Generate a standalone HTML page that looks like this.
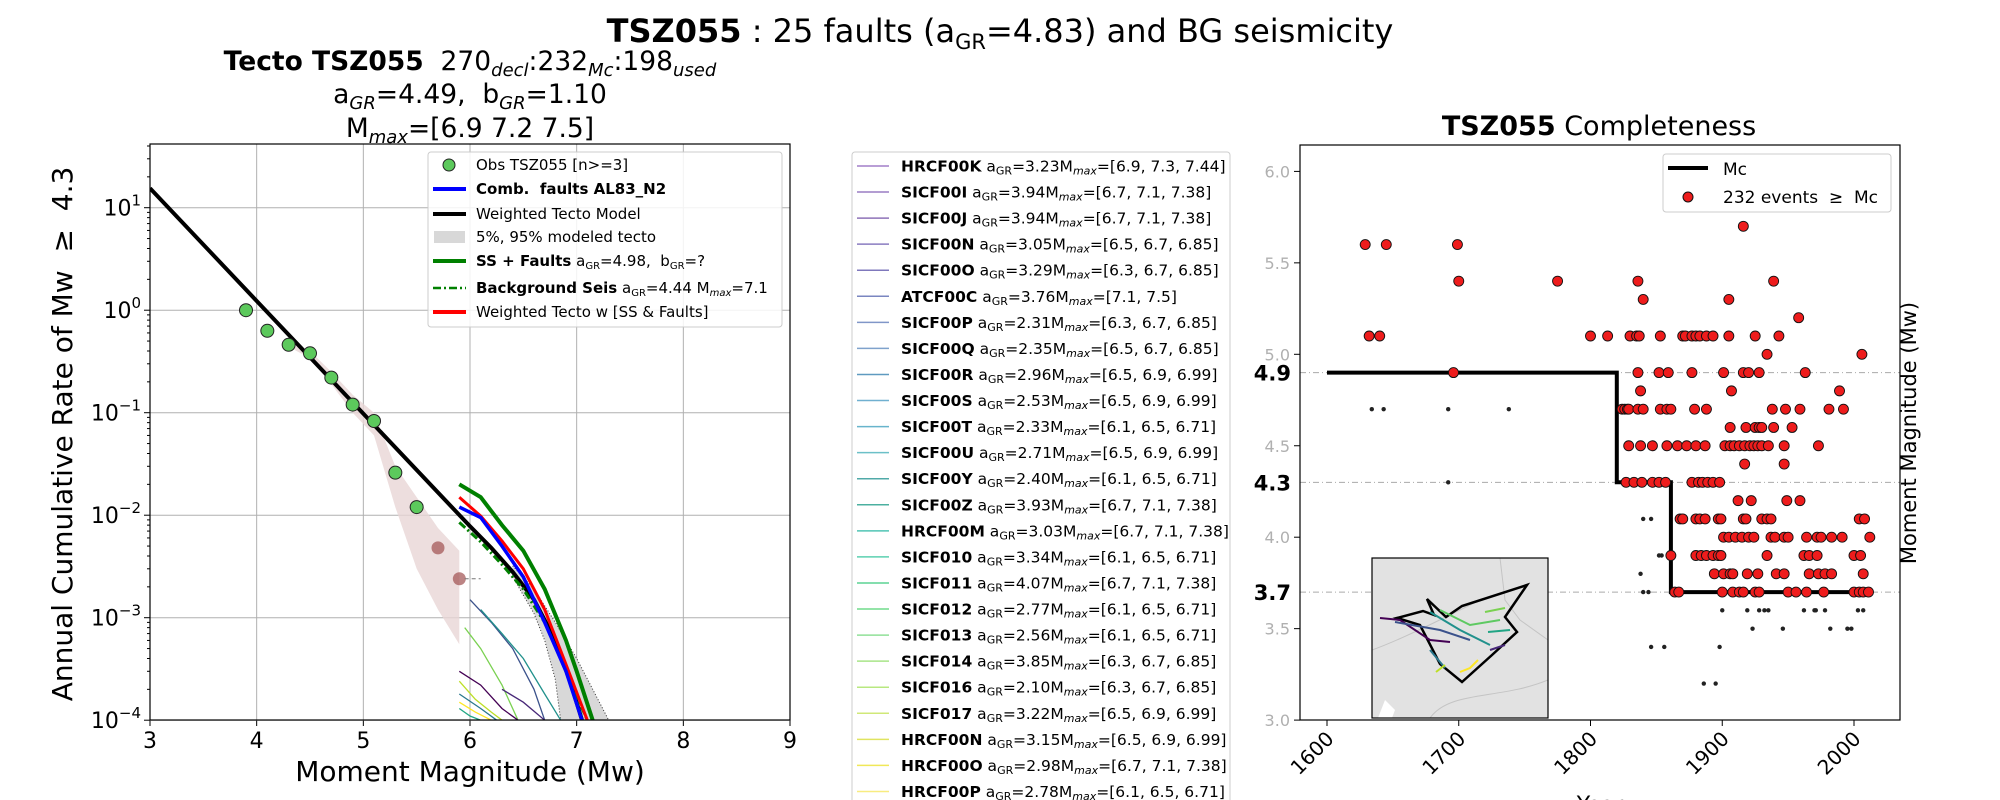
<!DOCTYPE html>
<html><head><meta charset="utf-8"><style>
html,body{margin:0;padding:0;background:#fff;}
svg{display:block;font-family:"DejaVu Sans","Liberation Sans",sans-serif;}
</style></head><body>
<svg id="fig" width="2000" height="800" viewBox="0 0 2000 800" xmlns="http://www.w3.org/2000/svg">
<defs>
<clipPath id="clipL"><rect x="150" y="144" width="640" height="576"/></clipPath>
<clipPath id="clipR"><rect x="1300" y="145" width="600" height="575"/></clipPath>
<clipPath id="clipM"><rect x="1372" y="558" width="176" height="160"/></clipPath>
</defs>
<text x="1000" y="42" text-anchor="middle" font-size="32"><tspan font-weight="bold">TSZ055</tspan> : 25 faults (a<tspan font-size="21" dy="7">GR</tspan><tspan dy="-7">=4.83) and BG seismicity</tspan></text>
<text x="470" y="70" text-anchor="middle" font-size="26.5"><tspan font-weight="bold">Tecto TSZ055</tspan>&#160;&#160;270<tspan font-size="18" font-style="italic" dy="6">decl</tspan><tspan dy="-6">:232</tspan><tspan font-size="18" font-style="italic" dy="6">Mc</tspan><tspan dy="-6">:198</tspan><tspan font-size="18" font-style="italic" dy="6">used</tspan></text>
<text x="470" y="103" text-anchor="middle" font-size="26.5">a<tspan font-size="18" font-style="italic" dy="6">GR</tspan><tspan dy="-6">=4.49,&#160;&#160;b</tspan><tspan font-size="18" font-style="italic" dy="6">GR</tspan><tspan dy="-6">=1.10</tspan></text>
<text x="470" y="137" text-anchor="middle" font-size="26.5">M<tspan font-size="18" font-style="italic" dy="6">max</tspan><tspan dy="-6">=[6.9 7.2 7.5]</tspan></text>
<g id="left"></g>
<g id="faultleg"></g>
<g id="right"></g>
</svg>
<script>
// ---------- LEFT CHART DATA ----------
const xTicks=[3,4,5,6,7,8,9];
const yExps=[-4,-3,-2,-1,0,1];
const obsM=[3.9,4.1,4.3,4.5,4.7,4.9,5.1,5.3,5.5];
const obsR=[1.0,0.63,0.46,0.38,0.22,0.12,0.083,0.026,0.012];
const obs2M=[5.7,5.9];
const obs2R=[0.0048,0.0024];
const tectoM=[3,4,5,6,6.2,6.4,6.6,6.8,6.95,7.05];
const tectoR=[15.5,1.23,0.098,0.0078,0.0048,0.0028,0.0015,0.0006,0.00022,0.0001];
const bandTopM=[4.3,4.5,4.7,4.9,5.1,5.3,5.5,5.7,5.9];
const bandTopR=[0.5,0.4,0.25,0.15,0.1,0.03,0.015,0.0075,0.0045];
const bandBotM=[5.9,5.7,5.5,5.3,5.1,4.9,4.7,4.5,4.3];
const bandBotR=[0.00055,0.0012,0.003,0.012,0.06,0.1,0.19,0.34,0.44];
const pctLoM=[6.4,6.6,6.7,6.8,6.85];
const pctLoR=[0.0025,0.0011,0.0006,0.00025,0.0001];
const pctHiM=[6.4,6.6,6.8,7.0,7.15,7.3];
const pctHiR=[0.0032,0.0019,0.0009,0.0004,0.0002,0.0001];
const blueM=[5.9,6.1,6.3,6.5,6.7,6.9,7.05];
const blueR=[0.012,0.0095,0.005,0.0025,0.0009,0.0003,0.0001];
const redM=[5.9,6.1,6.3,6.5,6.7,6.9,7.1];
const redR=[0.015,0.0098,0.0056,0.003,0.0012,0.00035,0.0001];
const greenM=[5.9,6.1,6.3,6.5,6.7,6.9,7.0,7.15];
const greenR=[0.02,0.015,0.008,0.0045,0.0019,0.0006,0.0003,0.0001];
const bgM=[5.9,6.1,6.3,6.5,6.7,6.9,7.1];
const bgR=[0.0085,0.0055,0.0033,0.0019,0.0009,0.0003,0.0001];
const faultCurves=[
 [[6.0,6.2,6.4,6.6,6.7],[0.0015,0.0009,0.0005,0.0002,0.0001],"#3b528b"],
 [[6.1,6.3,6.5,6.7,6.85],[0.0012,0.0007,0.0004,0.00018,0.0001],"#21918c"],
 [[5.95,6.1,6.3,6.45],[0.0008,0.0005,0.00022,0.0001],"#7ad151"],
 [[5.9,6.1,6.3,6.45],[0.0003,0.00022,0.00013,0.0001],"#440154"],
 [[5.9,6.05,6.2,6.3],[0.00024,0.00016,0.00012,0.0001],"#bddf26"],
 [[5.9,6.1,6.25],[0.00018,0.00013,0.0001],"#2a788e"],
 [[5.9,6.05,6.2],[0.00015,0.00012,0.0001],"#fde725"],
 [[6.3,6.5,6.7],[0.0002,0.00015,0.0001],"#482878"],
 [[5.9,6.0,6.1],[0.00013,0.00011,0.0001],"#22a884"]
];
// ---------- RIGHT CHART DATA ----------
const yearTicks=[1600,1700,1800,1900,2000];
const magTicks=[3.0,3.5,4.0,4.5,5.0,5.5,6.0];
const mcLevels=[4.9,4.3,3.7];
const mcYears=[1600,1820,1820,1861,1861,2013];
const mcMags=[4.9,4.9,4.3,4.3,3.7,3.7];
const evYears=[1916,1629,1645,1699,1700,1775,1836,1939,1840,1905,1958,1632,1640,1800,1813,1830,1835,1837,1853,1870,1872,1877,1880,1883,1888,1893,1905,1925,1943,1934,2006,
1696,1836,1852,1859,1877,1901,1916,1920,1928,1963,1838,1907,1989,
1824,1826,1828,1829,1836,1840,1853,1858,1861,1879,1888,1938,1948,1959,1981,1992,
1906,1918,1925,1928,1930,1939,1953,
1829,1838,1847,1858,1866,1873,1880,1887,1902,1906,1909,1913,1917,1921,1924,1927,1930,1935,1947,1973,1917,1947,
1827,1833,1839,1847,1852,1857,1877,1882,1885,1889,1893,1898,1912,1922,1949,1959,
1868,1870,1880,1883,1887,1897,1899,1916,1918,1930,1934,1937,2004,2008,
1901,1905,1910,1915,1920,1924,1937,1940,1947,1950,1964,1972,1975,1983,1991,2012,
1861,1880,1884,1888,1893,1897,1899,1934,1962,1966,1972,2000,2005,
1894,1901,1906,1908,1919,1927,1941,1947,1966,1973,1978,1983,2007,
1864,1867,1900,1908,1913,1916,1925,1928,1950,1956,1964,1977,2000,2004,2007,2011];
const evMags=[5.7,5.6,5.6,5.6,5.4,5.4,5.4,5.4,5.3,5.3,5.2,5.1,5.1,5.1,5.1,5.1,5.1,5.1,5.1,5.1,5.1,5.1,5.1,5.1,5.1,5.1,5.1,5.1,5.1,5.0,5.0,
4.9,4.9,4.9,4.9,4.9,4.9,4.9,4.9,4.9,4.9,4.8,4.8,4.8,
4.7,4.7,4.7,4.7,4.7,4.7,4.7,4.7,4.7,4.7,4.7,4.7,4.7,4.7,4.7,4.7,
4.6,4.6,4.6,4.6,4.6,4.6,4.6,
4.5,4.5,4.5,4.5,4.5,4.5,4.5,4.5,4.5,4.5,4.5,4.5,4.5,4.5,4.5,4.5,4.5,4.5,4.5,4.5,4.4,4.4,
4.3,4.3,4.3,4.3,4.3,4.3,4.3,4.3,4.3,4.3,4.3,4.3,4.2,4.2,4.2,4.2,
4.1,4.1,4.1,4.1,4.1,4.1,4.1,4.1,4.1,4.1,4.1,4.1,4.1,4.1,
4.0,4.0,4.0,4.0,4.0,4.0,4.0,4.0,4.0,4.0,4.0,4.0,4.0,4.0,4.0,4.0,
3.9,3.9,3.9,3.9,3.9,3.9,3.9,3.9,3.9,3.9,3.9,3.9,3.9,
3.8,3.8,3.8,3.8,3.8,3.8,3.8,3.8,3.8,3.8,3.8,3.8,3.8,
3.7,3.7,3.7,3.7,3.7,3.7,3.7,3.7,3.7,3.7,3.7,3.7,3.7,3.7,3.7,3.7];
const smYears=[1634,1643,1692,1738,1692,1840,1846,1852,1854,1838,1840,1844,1900,1919,1928,1932,1935,1962,1970,1971,1978,2003,2007,1923,1946,1982,1995,1998,1846,1856,1898,1886,1895];
const smMags=[4.7,4.7,4.7,4.7,4.3,4.1,4.1,3.9,3.9,3.8,3.7,3.7,3.6,3.6,3.6,3.6,3.6,3.6,3.6,3.6,3.6,3.6,3.6,3.5,3.5,3.5,3.5,3.5,3.4,3.4,3.4,3.2,3.2];
// ---------- FAULT LEGEND DATA ----------
const faultNames=["HRCF00K","SICF00I","SICF00J","SICF00N","SICF00O","ATCF00C","SICF00P","SICF00Q","SICF00R","SICF00S","SICF00T","SICF00U","SICF00Y","SICF00Z","HRCF00M","SICF010","SICF011","SICF012","SICF013","SICF014","SICF016","SICF017","HRCF00N","HRCF00O","HRCF00P"];
const faultA=["3.23","3.94","3.94","3.05","3.29","3.76","2.31","2.35","2.96","2.53","2.33","2.71","2.40","3.93","3.03","3.34","4.07","2.77","2.56","3.85","2.10","3.22","3.15","2.98","2.78"];
const faultMmax=["[6.9, 7.3, 7.44]","[6.7, 7.1, 7.38]","[6.7, 7.1, 7.38]","[6.5, 6.7, 6.85]","[6.3, 6.7, 6.85]","[7.1, 7.5]","[6.3, 6.7, 6.85]","[6.5, 6.7, 6.85]","[6.5, 6.9, 6.99]","[6.5, 6.9, 6.99]","[6.1, 6.5, 6.71]","[6.5, 6.9, 6.99]","[6.1, 6.5, 6.71]","[6.7, 7.1, 7.38]","[6.7, 7.1, 7.38]","[6.1, 6.5, 6.71]","[6.7, 7.1, 7.38]","[6.1, 6.5, 6.71]","[6.1, 6.5, 6.71]","[6.3, 6.7, 6.85]","[6.3, 6.7, 6.85]","[6.5, 6.9, 6.99]","[6.5, 6.9, 6.99]","[6.7, 7.1, 7.38]","[6.1, 6.5, 6.71]"];
const faultColors=["#a27ec8","#9a7dc4","#8e72b8","#8a7cc0","#7f78bc","#7a86c0","#8096c8","#7fa2cc","#5f9ac0","#70b0d0","#68b4cc","#6cc0c8","#50aaa8","#4cb0a0","#50c4b4","#5cd0b0","#5cd494","#70dc8c","#90e098","#a8e488","#b8e880","#d0e878","#e0e460","#f0e858","#f8ec80"];

const NS="http://www.w3.org/2000/svg";
function mk(tag,attrs,parent){const e=document.createElementNS(NS,tag);for(const k in attrs)e.setAttribute(k,attrs[k]);parent.appendChild(e);return e;}
const X=m=>150+(m-3)*106.667;
const Y=v=>207.7-(Math.log10(v)-1)*102.5;
const XR=y=>1327+(y-1600)*1.3175;
const YR=m=>171.4+(6-m)*182.9;
function pts(xs,ys,fx,fy){return xs.map((x,i)=>fx(x).toFixed(1)+","+fy(ys[i]).toFixed(1)).join(" ");}

// ===== LEFT =====
const L=document.getElementById('left');
xTicks.forEach(t=>{
 const g=mk('line',{x1:X(t),x2:X(t),y1:144,y2:720,stroke:'#b0b0b0','stroke-width':1},L);
 
 const tk=mk('line',{x1:X(t),x2:X(t),y1:720,y2:726,stroke:'#000'},L);
 
 const tx=mk('text',{x:X(t),y:748,'text-anchor':'middle','font-size':22},L);tx.textContent=t;
 
});
yExps.forEach(e=>{
 const y=Y(Math.pow(10,e));
 const g=mk('line',{x1:150,x2:790,y1:y,y2:y,stroke:'#b0b0b0','stroke-width':1},L);
 
 const tk=mk('line',{x1:144,x2:150,y1:y,y2:y,stroke:'#000'},L);
 
 const tx=mk('text',{x:141,y:y+8,'text-anchor':'end','font-size':22},L);
 tx.innerHTML='10<tspan font-size="15" dy="-10">'+(e<0?'\u2212'+(-e):e)+'</tspan>';
 
 for(let k=2;k<10;k++){const yy=Y(k*Math.pow(10,e));if(yy<144)continue;
  const mt=mk('line',{x1:147,x2:150,y1:yy,y2:yy,stroke:'#000'},L);
  }
});
const CL=mk('g',{'clip-path':'url(#clipL)'},L);

let e;
e=mk('polygon',{points:pts(bandTopM,bandTopR,X,Y)+" "+pts(bandBotM,bandBotR,X,Y),fill:'#e8d6d6',opacity:0.8},CL);

e=mk('polygon',{points:pts(pctLoM,pctLoR,X,Y)+" "+pts(pctHiM.slice().reverse(),pctHiR.slice().reverse(),X,Y),fill:'#d8d8d8'},CL);

e=mk('polyline',{points:pts(pctLoM,pctLoR,X,Y),fill:'none',stroke:'#333','stroke-width':1,'stroke-dasharray':'1,2'},CL);

e=mk('polyline',{points:pts(pctHiM,pctHiR,X,Y),fill:'none',stroke:'#333','stroke-width':1,'stroke-dasharray':'1,2'},CL);

faultCurves.forEach(fc=>{
 const p=mk('polyline',{points:pts(fc[0],fc[1],X,Y),fill:'none',stroke:fc[2],'stroke-width':1.3},CL);
 
});
e=mk('polyline',{points:pts(tectoM,tectoR,X,Y),fill:'none',stroke:'#000','stroke-width':4},CL);

e=mk('polyline',{points:pts(bgM,bgR,X,Y),fill:'none',stroke:'#008000','stroke-width':3,'stroke-dasharray':'8,3,2,3'},CL);

e=mk('polyline',{points:pts(greenM,greenR,X,Y),fill:'none',stroke:'#008000','stroke-width':4},CL);

e=mk('polyline',{points:pts(redM,redR,X,Y),fill:'none',stroke:'#ff0000','stroke-width':3},CL);

e=mk('polyline',{points:pts(blueM,blueR,X,Y),fill:'none',stroke:'#0000ff','stroke-width':3.5},CL);

obsM.forEach((m,i)=>{const c=mk('circle',{cx:X(m),cy:Y(obsR[i]),r:6.5,fill:'#5cc95c',stroke:'#222','stroke-width':1},CL);
 });
obs2M.forEach((m,i)=>{const c=mk('circle',{cx:X(m),cy:Y(obs2R[i]),r:6.5,fill:'#a05050',opacity:0.7},CL);
 });
e=mk('line',{x1:X(5.95),x2:X(6.1),y1:Y(0.0024),y2:Y(0.0024),stroke:'#777','stroke-dasharray':'4,3'},CL);

e=mk('rect',{x:150,y:144,width:640,height:576,fill:'none',stroke:'#000','stroke-width':1.2},L);

e=mk('text',{x:62,y:434,'text-anchor':'middle','font-size':28,transform:'rotate(-90 62 434) translate(0 10)'},L);
e.textContent='Annual Cumulative Rate of Mw\u00a0\u00a0\u2265\u00a0\u00a04.3';

e=mk('text',{x:470,y:781,'text-anchor':'middle','font-size':28},L);e.textContent='Moment Magnitude (Mw)';

// left legend
const LG=mk('g',{},L);
mk('rect',{x:428,y:152,width:354,height:175,rx:3,fill:'#fff','fill-opacity':0.85,stroke:'#ccc'},LG);
const legRows=[
 ['marker','','Obs TSZ055 [n>=3]',165],
 ['line','#0000ff','<tspan font-weight="bold">Comb.&#160; faults AL83_N2</tspan>',189],
 ['line','#000','Weighted Tecto Model',214],
 ['patch','#d8d8d8','5%, 95% modeled tecto',237],
 ['line','#008000','<tspan font-weight="bold">SS + Faults</tspan> a<tspan font-size="10" dy="3">GR</tspan><tspan dy="-3">=4.98,&#160; b</tspan><tspan font-size="10" dy="3">GR</tspan><tspan dy="-3">=?</tspan>',261],
 ['dash','#008000','<tspan font-weight="bold">Background Seis</tspan> a<tspan font-size="10" dy="3">GR</tspan><tspan dy="-3">=4.44 M</tspan><tspan font-size="10" dy="3" font-style="italic">max</tspan><tspan dy="-3">=7.1</tspan>',288],
 ['line','#ff0000','Weighted Tecto w [SS &amp; Faults]',312]
];
legRows.forEach(r=>{
 const y=r[3];
 if(r[0]==='marker'){const c=mk('circle',{cx:449,cy:y,r:6,fill:'#5cc95c',stroke:'#222'},LG);}
 else if(r[0]==='patch'){const c=mk('rect',{x:434,y:y-6,width:31,height:12,fill:r[1]},LG);}
 else{const c=mk('line',{x1:433,x2:466,y1:y,y2:y,stroke:r[1],'stroke-width':r[0]==='dash'?2.5:4,'stroke-dasharray':r[0]==='dash'?'8,3,2,3':'none'},LG);}
 const t=mk('text',{x:476,y:y+5,'font-size':15},LG);t.innerHTML=r[2];
 
});

// ===== FAULT LEGEND =====
const F=document.getElementById('faultleg');

mk('rect',{x:852,y:152,width:378,height:660,rx:3,fill:'#fff',stroke:'#ccc'},F);
faultNames.forEach((n,i)=>{
 const y=166+i*26.06;
 const l=mk('line',{x1:857,x2:889,y1:y,y2:y,stroke:faultColors[i],'stroke-width':1.5},F);
 
 const t=mk('text',{x:901,y:y+5.5,'font-size':15.5},F);
 t.innerHTML='<tspan font-weight="bold">'+n+'</tspan> a<tspan font-size="11" dy="3">GR</tspan><tspan dy="-3">='+faultA[i]+'M</tspan><tspan font-size="11" dy="3" font-style="italic">max</tspan><tspan dy="-3">='+faultMmax[i]+'</tspan>';
 
});

// ===== RIGHT =====
const R=document.getElementById('right');
e=mk('text',{x:1599,y:135,'text-anchor':'middle','font-size':27},R);
e.innerHTML='<tspan font-weight="bold">TSZ055</tspan> Completeness';

magTicks.forEach(m=>{
 const y=YR(m);
 const tk=mk('line',{x1:1294,x2:1300,y1:y,y2:y,stroke:'#000'},R);
 const t=mk('text',{x:1290,y:y+6,'text-anchor':'end','font-size':16,fill:'#b0b0b0'},R);t.textContent=m.toFixed(1);
 
});
mcLevels.forEach(m=>{
 const y=YR(m);
 const l=mk('line',{x1:1300,x2:1900,y1:y,y2:y,stroke:'#aaa','stroke-width':1,'stroke-dasharray':'6,3,1,3'},R);
 
 const t=mk('text',{x:1291,y:y+8,'text-anchor':'end','font-size':21,'font-weight':'bold'},R);t.textContent=m.toFixed(1);
 
});
yearTicks.forEach(yr=>{
 const x=XR(yr);
 const tk=mk('line',{x1:x,x2:x,y1:720,y2:726,stroke:'#000'},R);
 const t=mk('text',{x:x+8,y:740,'text-anchor':'end','font-size':20,transform:'rotate(-45 '+(x+8)+' 740)'},R);t.textContent=yr;
 
});
const CR=mk('g',{'clip-path':'url(#clipR)'},R);

e=mk('polyline',{points:pts(mcYears,mcMags,XR,YR),fill:'none',stroke:'#000','stroke-width':4},CR);

evYears.forEach((yr,i)=>{const c=mk('circle',{cx:XR(yr),cy:YR(evMags[i]),r:5,fill:'#ee1c1c',stroke:'#111','stroke-width':0.9},CR);
 });
smYears.forEach((yr,i)=>{const c=mk('circle',{cx:XR(yr),cy:YR(smMags[i]),r:2.2,fill:'#222'},CR);
 });
// inset map
const M=mk('g',{},R);
mk('rect',{x:1372,y:558,width:176,height:160,fill:'#e2e2e2'},M);
const MC=mk('g',{'clip-path':'url(#clipM)'},M);
mk('path',{d:'M1372,650 C1400,640 1440,620 1480,600 M1500,558 L1505,600 L1520,620 L1548,640 M1430,718 C1450,690 1500,700 1548,680',fill:'none',stroke:'#c4c4c4','stroke-width':1},MC);
mk('path',{d:'M1378,718 L1385,700 L1395,710 L1392,718 Z',fill:'#fff'},MC);
mk('polygon',{points:'1397,618 1423,611 1434,615 1427,599 1446,617 1462,606 1527,585 1505,617 1517,632 1492,655 1462,682 1440,664 1420,625',fill:'none',stroke:'#000','stroke-width':2.5},MC);
const mapLines=[['#440154','M1380,618 L1400,620 L1430,640 L1450,642'],['#3b528b','M1395,622 L1440,630 L1470,640'],['#21918c','M1430,612 L1460,630 L1490,645'],['#5ec962','M1440,610 L1470,625 L1500,620'],['#7ad151','M1485,612 L1505,608'],['#21a585','M1488,632 L1510,630'],['#2a788e','M1430,650 L1445,668'],['#fde725','M1460,672 L1470,668 L1478,660'],['#bddf26','M1436,672 L1445,665'],['#482878','M1490,650 L1505,645']];
mapLines.forEach(ml=>{const p=mk('path',{d:ml[1],fill:'none',stroke:ml[0],'stroke-width':2},MC);});
mk('rect',{x:1372,y:558,width:176,height:160,fill:'none',stroke:'#000','stroke-width':1.2},M);
e=mk('rect',{x:1300,y:145,width:600,height:575,fill:'none',stroke:'#000','stroke-width':1.2},R);

// right legend
const RL=mk('g',{},R);
mk('rect',{x:1663,y:154,width:228,height:58,rx:3,fill:'#fff','fill-opacity':0.85,stroke:'#ccc'},RL);
e=mk('line',{x1:1668,x2:1708,y1:168,y2:168,stroke:'#000','stroke-width':4},RL);
e=mk('text',{x:1723,y:175,'font-size':17},RL);e.textContent='Mc';
e=mk('circle',{cx:1688,cy:197,r:5,fill:'#ee1c1c',stroke:'#111'},RL);
e=mk('text',{x:1723,y:203,'font-size':17},RL);e.textContent='232 events\u00a0\u00a0\u2265\u00a0\u00a0Mc';
e=mk('text',{x:1916,y:433,'text-anchor':'middle','font-size':21,transform:'rotate(-90 1916 433)'},R);e.textContent='Moment Magnitude (Mw)';

e=mk('text',{x:1600,y:812,'text-anchor':'middle','font-size':22},R);e.textContent='Year';

</script>
</body></html>
